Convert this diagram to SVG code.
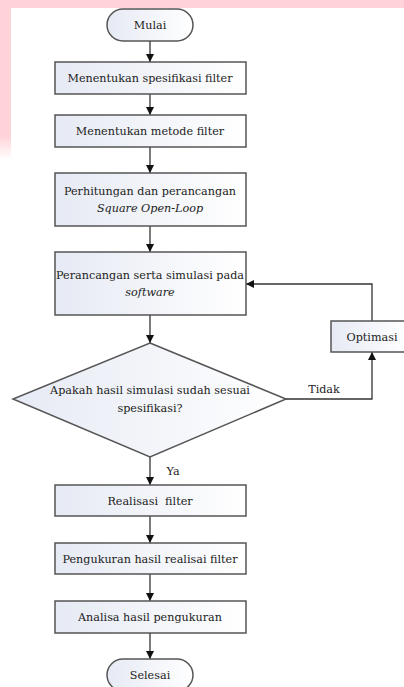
<svg xmlns="http://www.w3.org/2000/svg" width="404" height="687" viewBox="0 0 404 687">
<defs>
<linearGradient id="g" x1="0" y1="0" x2="1" y2="0">
<stop offset="0" stop-color="#e6eaf4"/>
<stop offset="1" stop-color="#ffffff"/>
</linearGradient>
<linearGradient id="pk" x1="0" y1="0" x2="0" y2="1">
<stop offset="0.85" stop-color="#ffd3d8"/>
<stop offset="1" stop-color="#ffd3d8" stop-opacity="0"/>
</linearGradient>
<marker id="ah" viewBox="0 0 10 10" refX="10" refY="5" markerWidth="8" markerHeight="8" markerUnits="userSpaceOnUse" orient="auto">
<path d="M0,0 L10,5 L0,10 z" fill="#111"/>
</marker>
</defs>
<style>
.n{fill:url(#g);stroke:#555;stroke-width:1.5}
.t{font-family:'DejaVu Serif',serif;font-size:11.2px;fill:#222;text-anchor:middle}
.i{font-style:italic}
.c{fill:none;stroke:#333;stroke-width:1.3;marker-end:url(#ah)}
</style>
<rect width="404" height="687" fill="#fff"/>
<rect x="0" y="0" width="404" height="8" fill="#ffd3d8"/>
<rect x="0" y="0" width="11" height="160" fill="url(#pk)"/>
<g id="connectors">
<path class="c" d="M150,41 V62"/>
<path class="c" d="M150,94 V115"/>
<path class="c" d="M150,147 V173"/>
<path class="c" d="M150,226 V252"/>
<path class="c" d="M150,315 V343"/>
<path class="c" d="M150,457 V485"/>
<path class="c" d="M150,516 V543"/>
<path class="c" d="M150,574 V601"/>
<path class="c" d="M150,633 V659"/>
<path class="c" d="M286,399 H372 V352"/>
<path class="c" d="M372,321 V284 H246"/>
<text class="t" x="324" y="393">Tidak</text>
<text class="t" x="173" y="475">Ya</text>
</g>
<g id="mulai">
<rect class="n" x="107" y="9" width="86" height="32" rx="16"/>
<text class="t" x="150" y="29">Mulai</text>
</g>
<g id="spesifikasi">
<rect class="n" x="55" y="62" width="191" height="32"/>
<text class="t" x="150" y="82">Menentukan spesifikasi filter</text>
</g>
<g id="metode">
<rect class="n" x="55" y="115" width="191" height="32"/>
<text class="t" x="150" y="135">Menentukan metode filter</text>
</g>
<g id="perhitungan">
<rect class="n" x="55" y="173" width="191" height="53"/>
<text class="t" x="150" y="195">Perhitungan dan perancangan</text>
<text class="t i" x="150" y="212">Square Open-Loop</text>
</g>
<g id="perancangan">
<rect class="n" x="55" y="252" width="191" height="63"/>
<text class="t" x="150" y="279">Perancangan serta simulasi pada</text>
<text class="t i" x="150" y="296">software</text>
</g>
<g id="keputusan">
<polygon class="n" points="150,343 286,399 150,457 13,399"/>
<text class="t" x="150" y="394">Apakah hasil simulasi sudah sesuai</text>
<text class="t" x="150" y="412">spesifikasi?</text>
</g>
<g id="optimasi">
<rect class="n" x="331" y="321" width="75" height="31"/>
<text class="t" x="372" y="341">Optimasi</text>
</g>
<g id="realisasi">
<rect class="n" x="55" y="485" width="191" height="31"/>
<text class="t" x="150" y="505">Realisasi&#160; filter</text>
</g>
<g id="pengukuran">
<rect class="n" x="55" y="543" width="191" height="31"/>
<text class="t" x="150" y="563">Pengukuran hasil realisai filter</text>
</g>
<g id="analisa">
<rect class="n" x="55" y="601" width="191" height="32"/>
<text class="t" x="150" y="621">Analisa hasil pengukuran</text>
</g>
<g id="selesai">
<rect class="n" x="107" y="659" width="86" height="32" rx="16"/>
<text class="t" x="150" y="679">Selesai</text>
</g>
</svg>
